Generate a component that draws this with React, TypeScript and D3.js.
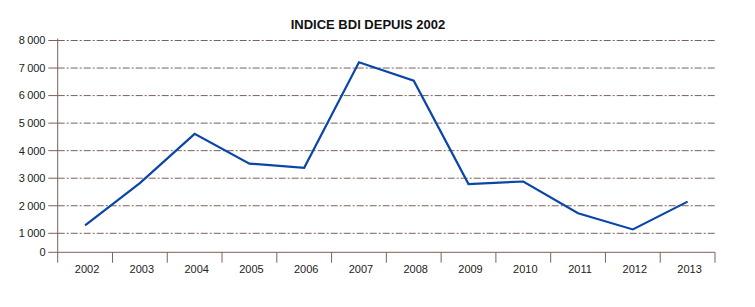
import React from "react";
import * as d3 from "d3";

const years = ["2002","2003","2004","2005","2006","2007","2008","2009","2010","2011","2012","2013"];
const values = [1290, 2820, 4610, 3530, 3380, 7210, 6540, 2790, 2880, 1730, 1140, 2150];
const yTicks = [0, 1000, 2000, 3000, 4000, 5000, 6000, 7000, 8000];
const title = "INDICE BDI DEPUIS 2002";

const W = 755, H = 307;
const left = 57.7, right = 715;
const fmt = (v: number) => d3.format(",")(v).replace(/,/g, "\u2009");

export default function App() {
  const x = d3.scaleBand<string>().domain(years).range([left, right]);
  const y = d3.scaleLinear().domain([0, 1000, 8000]).range([252.3, 233.3, 40.5]);
  const line = d3.line<number>().x((_, i) => (x(years[i]) as number) + x.bandwidth() / 2).y(v => y(v));
  const axisColor = "#7a625a";
  const font = "'Liberation Sans', Arial, sans-serif";
  return (
    <svg width={W} height={H} style={{ position: "absolute", left: 0, top: 0 }} fontFamily={font}>
      <rect width={W} height={H} fill="#fff" />
      <text x={368} y={29} textAnchor="middle" fontSize={13} fontWeight="bold" fill="#111">{title}</text>
      {yTicks.filter(t => t > 0).map(t => (
        <line key={t} x1={left} x2={right} y1={y(t)} y2={y(t)} stroke={axisColor} strokeWidth={1} strokeDasharray="7,2,2,2" />
      ))}
      {yTicks.map(t => (
        <g key={"yt" + t}>
          <line x1={48.3} x2={left} y1={y(t)} y2={y(t)} stroke={axisColor} strokeWidth={1} />
          <text x={45.5} y={y(t)} dy="0.35em" textAnchor="end" fontSize={11} fill="#222">{fmt(t)}</text>
        </g>
      ))}
      <line x1={left} x2={left} y1={y(8000) - 2} y2={y(0)} stroke={axisColor} strokeWidth={1} />
      <line x1={left} x2={right} y1={y(0)} y2={y(0)} stroke={axisColor} strokeWidth={1} />
      {[...years.map(yr => x(yr) as number), right].map((px, i) => (
        <line key={"xt" + i} x1={px} x2={px} y1={y(0)} y2={262.7} stroke={axisColor} strokeWidth={1} />
      ))}
      {years.map(yr => (
        <text key={"xl" + yr} x={(x(yr) as number) + x.bandwidth() / 2 + 2} y={269} dy="0.35em" textAnchor="middle" fontSize={11} fill="#222">{yr}</text>
      ))}
      <path d={line(values) || ""} fill="none" stroke="#0a45a8" strokeWidth={2.2} strokeLinejoin="miter" />
    </svg>
  );
}
